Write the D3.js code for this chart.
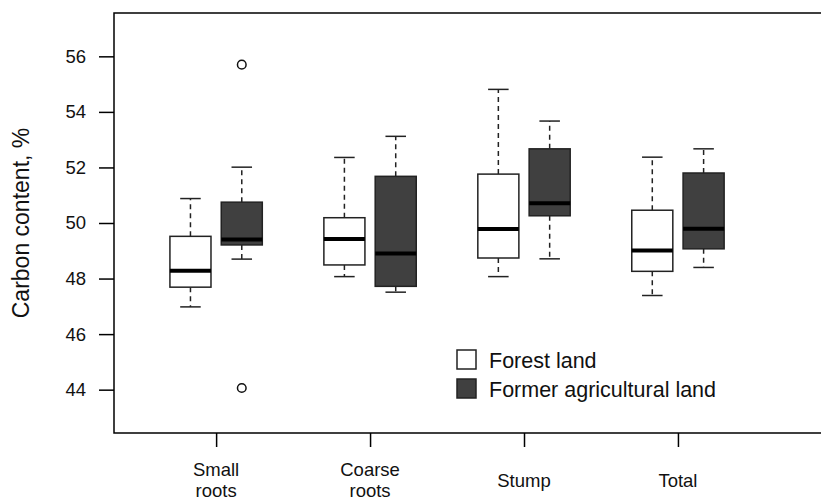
<!DOCTYPE html>
<html>
<head>
<meta charset="utf-8">
<script src="https://cdn.jsdelivr.net/npm/d3@7"></script>
<style>
  html, body { margin: 0; padding: 0; background: #fff; }
  svg { display: block; font-family: "Liberation Sans", Arial, Helvetica, sans-serif; }
</style>
</head>
<body>
<svg id="chart" width="821" height="500"></svg>
<script>
// Tissue groups on the x axis
const categories = [["Small", "roots"], ["Coarse", "roots"], ["Stump"], ["Total"]];

// Five-number summaries per group: [lower whisker, Q1, median, Q3, upper whisker]
const forestStats = [
  [46.98, 47.69, 48.28, 49.52, 50.88],
  [48.07, 48.49, 49.42, 50.19, 52.36],
  [48.07, 48.74, 49.78, 51.76, 54.81],
  [47.39, 48.26, 49.01, 50.46, 52.37]
];
const agriStats = [
  [48.70, 49.21, 49.41, 50.75, 52.01],
  [47.51, 47.72, 48.90, 51.68, 53.12],
  [48.71, 50.26, 50.71, 52.67, 53.67],
  [48.40, 49.07, 49.79, 51.80, 52.67]
];

// Outlying observations: [group index, value]
const forestOutliers = [];
const agriOutliers = [[0, 55.70], [0, 44.06]];

const yTicks = [44, 46, 48, 50, 52, 54, 56];
const seriesNames = ["Forest land", "Former agricultural land"];
const seriesFills = ["#ffffff", "#404040"];

const svg = d3.select("#chart");
const W = +svg.attr("width");
const plot = { left: 114, top: 13, bottom: 433, right: 797 };

const x = d3.scaleLinear().domain([-0.49, 12.82]).range([plot.left, plot.right]);
const y = d3.scaleLinear().domain([42.44, 57.56]).range([plot.bottom, plot.top]);

const boxW = 0.8;   // box width in x units
const capW = 0.4;   // whisker cap width in x units

// Plot frame (right side runs past the visible area)
svg.append("path")
  .attr("d", `M${W + 20},${plot.top}H${plot.left}V${plot.bottom}H${W + 20}`)
  .attr("fill", "none").attr("stroke", "#000").attr("stroke-width", 1.5);

// Y axis
const yAxis = d3.axisLeft(y).tickValues(yTicks).tickSize(15).tickPadding(13);
const gy = svg.append("g").attr("transform", `translate(${plot.left},0)`).call(yAxis);
gy.select(".domain").remove();
gy.selectAll(".tick line").attr("stroke", "#000").attr("stroke-width", 1.5);
gy.selectAll(".tick text").attr("fill", "#111").style("font-size", "18.5px")
  .style("font-family", "Liberation Sans, Arial, sans-serif");

// X axis ticks at group centres
const groupPos = categories.map((c, i) => 3 * i + 1.5);
const xAxis = d3.axisBottom(x).tickValues(groupPos).tickSize(14).tickFormat("");
const gx = svg.append("g").attr("transform", `translate(0,${plot.bottom})`).call(xAxis);
gx.select(".domain").remove();
gx.selectAll(".tick line").attr("stroke", "#000").attr("stroke-width", 1.5);

// Category labels, multi-line labels centred on the same line as single-line ones
const lineH = 21;
const labelMid = 480;
categories.forEach((lines, i) => {
  const t = svg.append("text")
    .attr("x", x(groupPos[i]))
    .attr("text-anchor", "middle")
    .attr("fill", "#111")
    .style("font-size", "18.5px");
  lines.forEach((ln, j) => {
    const yy = labelMid + (j - (lines.length - 1) / 2) * lineH + 6.5;
    t.append("tspan").attr("x", x(groupPos[i])).attr("y", yy).text(ln);
  });
});

// Y axis title
svg.append("text")
  .attr("transform", `translate(29,${(plot.top + plot.bottom) / 2}) rotate(-90)`)
  .attr("text-anchor", "middle")
  .attr("fill", "#111")
  .style("font-size", "23px")
  .text("Carbon content, %");

// Boxplots
function drawBoxes(stats, offset, fill, outliers) {
  const g = svg.append("g");
  stats.forEach((s, i) => {
    const cx = 3 * i + offset;
    const [lo, q1, med, q3, hi] = s;
    // dashed whiskers
    g.append("line").attr("x1", x(cx)).attr("x2", x(cx)).attr("y1", y(q3)).attr("y2", y(hi))
      .attr("stroke", "#222").attr("stroke-width", 1.5).attr("stroke-dasharray", "5,4");
    g.append("line").attr("x1", x(cx)).attr("x2", x(cx)).attr("y1", y(q1)).attr("y2", y(lo))
      .attr("stroke", "#222").attr("stroke-width", 1.5).attr("stroke-dasharray", "5,4");
    // whisker caps
    [lo, hi].forEach(v => {
      g.append("line").attr("x1", x(cx - capW / 2)).attr("x2", x(cx + capW / 2))
        .attr("y1", y(v)).attr("y2", y(v))
        .attr("stroke", "#222").attr("stroke-width", 1.5);
    });
    // box
    g.append("rect")
      .attr("x", x(cx - boxW / 2)).attr("width", x(cx + boxW / 2) - x(cx - boxW / 2))
      .attr("y", y(q3)).attr("height", y(q1) - y(q3))
      .attr("fill", fill).attr("stroke", "#222").attr("stroke-width", 1.5);
    // median
    g.append("line").attr("x1", x(cx - boxW / 2)).attr("x2", x(cx + boxW / 2))
      .attr("y1", y(med)).attr("y2", y(med))
      .attr("stroke", "#000").attr("stroke-width", 4);
  });
  outliers.forEach(([i, v]) => {
    g.append("circle").attr("cx", x(3 * i + offset)).attr("cy", y(v)).attr("r", 4.3)
      .attr("fill", "none").attr("stroke", "#111").attr("stroke-width", 1.5);
  });
}
drawBoxes(forestStats, 1, seriesFills[0], forestOutliers);
drawBoxes(agriStats, 2, seriesFills[1], agriOutliers);

// Legend
const legend = svg.append("g").attr("transform", "translate(457,350)");
seriesNames.forEach((name, i) => {
  legend.append("rect").attr("x", 0).attr("y", i * 29).attr("width", 19).attr("height", 19)
    .attr("fill", seriesFills[i]).attr("stroke", "#222").attr("stroke-width", 1.5);
  legend.append("text").attr("x", 32).attr("y", i * 29 + 17.5)
    .attr("fill", "#111").style("font-size", "21.5px").text(name);
});
</script>
</body>
</html>
